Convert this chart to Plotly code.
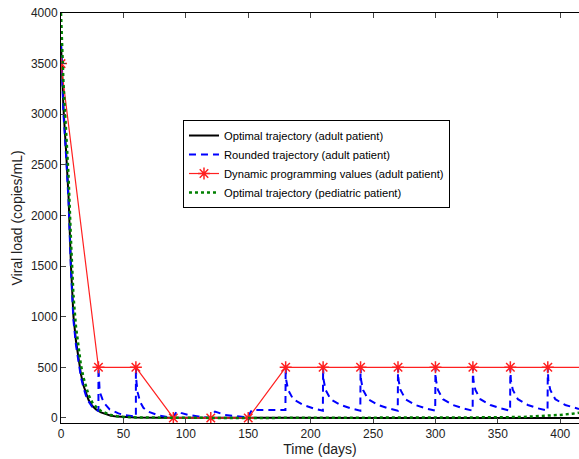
import plotly.graph_objects as go

# Optimal trajectory (adult patient)
t_opt = [0, 2, 4, 6, 8, 10, 12, 14, 16, 18, 20, 22, 25, 28, 32, 36, 40, 45, 50, 60, 80, 100, 150, 200, 250, 300, 350, 400, 415]
v_opt = [3700, 3050, 2650, 2200, 1500, 1000, 760, 570, 430, 320, 240, 180, 120, 85, 55, 35, 22, 13, 8, 4, 2, 1, 0, 0, 0, 0, 0, 0, 0]

# Rounded trajectory (adult patient)
t_rnd = [0, 2, 4, 6, 8, 10, 12, 14, 16, 18, 20, 22, 25, 28, 30,
         30, 30.4, 31, 33, 35, 39, 46, 51, 57, 60,
         60, 60.4, 61.5, 63.3, 66, 70, 78, 85, 89, 90.5, 92.7, 96, 102, 110, 117, 120, 123.4, 131.5, 140.8, 148, 150, 151, 153, 179.8,
         180, 180.4, 182, 186, 194, 202, 209.8,
         210, 210.4, 212, 216, 224, 232, 239.8,
         240, 240.4, 242, 246, 254, 262, 269.8,
         270, 270.4, 272, 276, 284, 292, 299.8,
         300, 300.4, 302, 306, 314, 322, 329.8,
         330, 330.4, 332, 336, 344, 352, 359.8,
         360, 360.4, 362, 366, 374, 382, 389.8,
         390, 390.4, 392, 396, 404, 412, 415]
v_rnd = [3700, 3000, 2600, 2150, 1450, 960, 720, 540, 400, 300, 220, 165, 110, 80, 70,
         500, 370, 260, 190, 140, 85, 45, 28, 17, 12,
         500, 360, 250, 160, 100, 62, 25, 10, 2, 20, 62, 50, 30, 15, 2, 10, 62, 30, 15, 2, 5, 40, 79, 79,
         500, 375, 276, 185, 128, 95, 72,
         500, 375, 276, 185, 128, 95, 72,
         500, 375, 276, 185, 128, 95, 72,
         500, 375, 276, 185, 128, 95, 72,
         500, 375, 276, 185, 128, 95, 72,
         500, 375, 276, 185, 128, 95, 72,
         500, 375, 276, 185, 128, 95, 72,
         500, 375, 276, 185, 128, 95, 88]

# Dynamic programming values (adult patient)
t_dp = [0, 30, 60, 90, 120, 150, 180, 210, 240, 270, 300, 330, 360, 390, 420]
v_dp = [3500, 500, 500, 0, 0, 0, 500, 500, 500, 500, 500, 500, 500, 500, 500]

# Optimal trajectory (pediatric patient)
t_ped = [0, 2, 4, 6, 8, 10, 12, 14, 16, 18, 20, 22, 25, 28, 32, 36, 40, 45, 50, 60, 80, 100, 150, 200, 250, 300, 330, 350, 370, 390, 400, 410, 415]
v_ped = [4000, 3300, 2850, 2400, 1750, 1200, 900, 680, 520, 400, 300, 230, 155, 110, 70, 45, 28, 17, 10, 5, 2, 1, 0, 0, 0, 0, 2, 6, 10, 20, 30, 42, 52]

x_ticks = [0, 50, 100, 150, 200, 250, 300, 350, 400]
y_ticks = [0, 500, 1000, 1500, 2000, 2500, 3000, 3500, 4000]

names = ["Optimal trajectory (adult patient)",
         "Rounded trajectory (adult patient)",
         "Dynamic programming values (adult patient)",
         "Optimal trajectory (pediatric patient)"]

fig = go.Figure()
fig.add_trace(go.Scatter(x=t_opt, y=v_opt, mode="lines", name=names[0],
                         line=dict(color="black", width=2)))
fig.add_trace(go.Scatter(x=t_rnd, y=v_rnd, mode="lines", name=names[1],
                         line=dict(color="#0000ff", width=2, dash="7px,5px")))
fig.add_trace(go.Scatter(x=t_dp, y=v_dp, mode="lines+markers", name=names[2],
                         line=dict(color="#ff2020", width=1.2),
                         marker=dict(symbol="asterisk-open", size=10,
                                     line=dict(color="#ff0000", width=1.5))))
fig.add_trace(go.Scatter(x=t_ped, y=v_ped, mode="lines", name=names[3],
                         line=dict(color="#008000", width=2.5, dash="dot")))

font = dict(family="Liberation Sans, Arial, sans-serif", size=12, color="#222222")
fig.update_layout(
    width=579, height=459,
    margin=dict(l=61, r=0, t=13, b=36),
    paper_bgcolor="white", plot_bgcolor="white",
    font=font,
    showlegend=True,
    legend=dict(x=0.2355, y=0.739, xanchor="left", yanchor="top",
                bgcolor="white", bordercolor="black", borderwidth=1,
                font=dict(family="Liberation Sans, Arial, sans-serif", size=11.2, color="black"),
                tracegroupgap=0, itemwidth=30),
)
fig.update_xaxes(range=[0, 415], tickvals=x_ticks, ticks="inside", ticklen=5,
                 showline=True, linecolor="black", linewidth=1, mirror="ticks",
                 showgrid=False, zeroline=False,
                 title=dict(text="Time (days)", standoff=0))
fig.update_yaxes(range=[-50, 4000], tickvals=y_ticks, ticks="inside", ticklen=5,
                 showline=True, linecolor="black", linewidth=1, mirror=False,
                 showgrid=False, zeroline=False,
                 title=dict(text="Viral load (copies/mL)", standoff=4))

fig.write_html("out.html")
